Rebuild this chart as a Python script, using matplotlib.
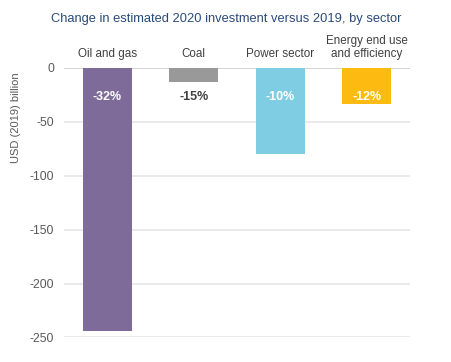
import numpy as np
import matplotlib.pyplot as plt
import matplotlib.transforms as mtransforms

plt.rcParams['font.family'] = ['Liberation Sans', 'DejaVu Sans']
plt.rcParams['axes.unicode_minus'] = False

# data
sectors = ['Oil and gas', 'Coal', 'Power sector', 'Energy end use\nand efficiency']
change = [-244, -13, -80, -33]
pct_labels = ['-32%', '-15%', '-10%', '-12%']
colors = ['#7f6b9a', '#999999', '#7fcde3', '#fdbb12']
label_colors = ['white', '#404040', 'white', 'white']
yticks = [0, -50, -100, -150, -200, -250]

fig = plt.figure(figsize=(4.52, 3.62), dpi=100)
ax = fig.add_axes([0.1416, 0.0677, 0.7655, 0.7445])

x = np.arange(len(sectors))
ax.bar(x, change, width=0.57, color=colors, zorder=3)

ax.set_xlim(-0.5, 3.5)
ax.set_ylim(-250, 0)
ax.set_yticks(yticks)
ax.set_xticks([])
ax.yaxis.grid(True, color='#e6e6e6', linewidth=1.2, zorder=0)
ax.axhline(0, color='#d0d0d0', linewidth=1.2, zorder=2)
for s in ax.spines.values():
    s.set_visible(False)
ax.tick_params(axis='y', length=0, pad=7, labelsize=8.8, labelcolor='#595959')
ax.set_ylabel('USD (2019) billion', fontsize=8, color='#595959')
ax.yaxis.set_label_coords(-0.124, 0.815)

# category names above the axes
trans = mtransforms.blended_transform_factory(ax.transData, ax.transAxes)
off = mtransforms.offset_copy(trans, fig=fig, x=0, y=6, units='points')
for i, name in enumerate(sectors):
    ax.text(x[i], 1.0, name, transform=off, ha='center', va='bottom',
            fontsize=8.4, color='#404040', linespacing=1.1)

# percentage labels
for i, p in enumerate(pct_labels):
    ax.text(x[i], -27, p, ha='center', va='center', fontsize=9,
            fontweight='bold', color=label_colors[i], zorder=4)

fig.text(0.5, 0.947, 'Change in estimated 2020 investment versus 2019, by sector',
         ha='center', va='center', fontsize=9.3, color='#2a4a7a')

fig.savefig('out.png', dpi=100)
